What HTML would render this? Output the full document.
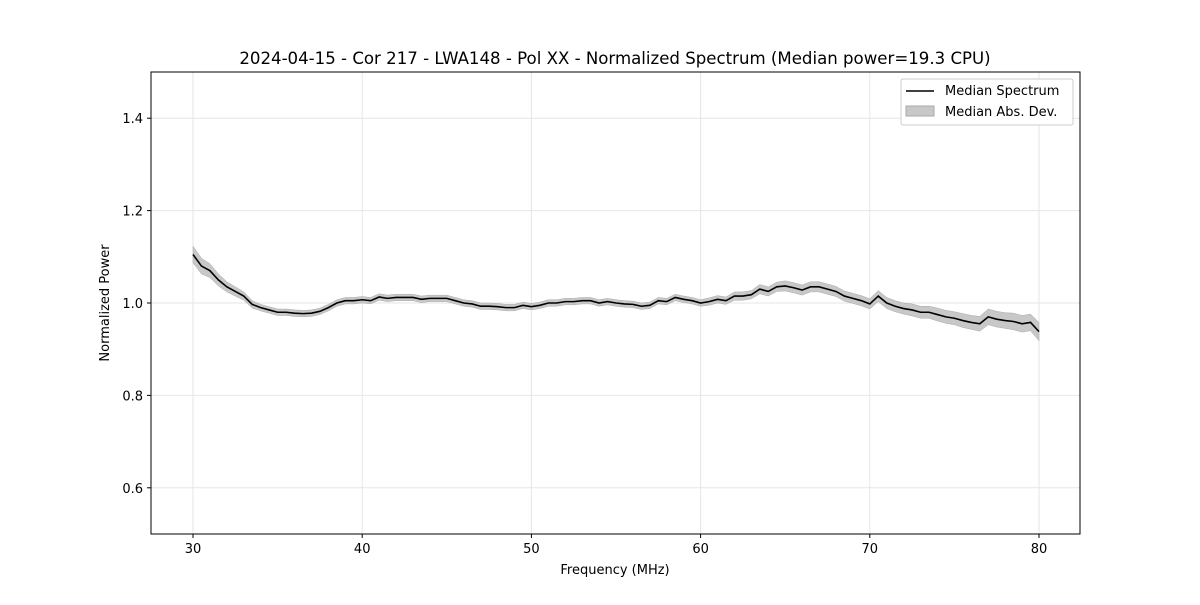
<!DOCTYPE html>
<html><head><meta charset="utf-8"><style>
body{margin:0;background:#fff;font-family:"Liberation Sans",sans-serif}
svg text{font-family:"DejaVu Sans","Liberation Sans",sans-serif;font-size:13px;fill:#000}
</style></head><body>
<svg id="chart" width="1200" height="600" xmlns="http://www.w3.org/2000/svg">
<rect width="1200" height="600" fill="#fff"/>
<text x="615" y="64" text-anchor="middle" style="font-size:16.6px">2024-04-15 - Cor 217 - LWA148 - Pol XX - Normalized Spectrum (Median power=19.3 CPU)</text>
<g id="grid"></g>
<g id="marks"></g>
<rect x="151" y="72" width="929" height="462" fill="none" stroke="#000" stroke-width="1"/>
<g id="ticks"></g>
<text x="615" y="574" text-anchor="middle">Frequency (MHz)</text>
<text transform="translate(109,303) rotate(-90)" text-anchor="middle">Normalized Power</text>
<g>
<rect x="901" y="79" width="172" height="46" fill="#fff" stroke="#ccc" rx="2"/>
<line x1="906" y1="91" x2="934" y2="91" stroke="#000" stroke-width="1.6"/>
<text x="945" y="95">Median Spectrum</text>
<rect x="906" y="106" width="28" height="10" fill="#c8c8c8" stroke="#aaa"/>
<text x="945" y="116">Median Abs. Dev.</text>
</g>
</svg>
<script>
const freqStart = 30, freqStep = 0.5;
const medianValues = [1.105,1.08,1.07,1.05,1.035,1.025,1.015,0.997,0.99,0.985,0.98,0.98,0.978,0.977,0.978,0.982,0.99,1.0,1.005,1.005,1.007,1.005,1.013,1.01,1.012,1.012,1.012,1.008,1.01,1.01,1.01,1.005,1.0,0.998,0.993,0.993,0.992,0.99,0.99,0.995,0.992,0.995,1.0,1.0,1.003,1.003,1.005,1.005,1.0,1.003,1.0,0.998,0.997,0.993,0.995,1.005,1.003,1.012,1.008,1.005,1.0,1.003,1.008,1.005,1.015,1.015,1.018,1.03,1.025,1.035,1.037,1.033,1.028,1.035,1.035,1.03,1.025,1.015,1.01,1.005,0.998,1.015,1.0,0.993,0.988,0.985,0.98,0.98,0.975,0.97,0.967,0.962,0.958,0.955,0.97,0.965,0.962,0.96,0.955,0.958,0.938];
const madValues = [0.018,0.017,0.015,0.013,0.011,0.01,0.009,0.008,0.007,0.007,0.007,0.007,0.007,0.007,0.007,0.007,0.007,0.007,0.007,0.007,0.007,0.007,0.007,0.007,0.007,0.007,0.007,0.007,0.007,0.007,0.007,0.007,0.007,0.007,0.007,0.007,0.007,0.007,0.007,0.007,0.007,0.007,0.007,0.007,0.007,0.007,0.007,0.007,0.007,0.007,0.007,0.007,0.007,0.007,0.007,0.007,0.007,0.007,0.007,0.007,0.007,0.008,0.008,0.008,0.009,0.009,0.009,0.01,0.01,0.01,0.011,0.011,0.011,0.011,0.011,0.011,0.011,0.011,0.011,0.011,0.011,0.012,0.012,0.012,0.012,0.013,0.013,0.013,0.014,0.014,0.014,0.015,0.015,0.016,0.017,0.017,0.017,0.018,0.018,0.018,0.02];
const xTicks = [30,40,50,60,70,80];
const yTicks = [0.6,0.8,1.0,1.2,1.4];
const X = f => 193 + (f-30)*16.92;
const Y = v => 534 - (v-0.5)*462;
const NS='http://www.w3.org/2000/svg';
function mk(tag, attrs, parent){const e=document.createElementNS(NS,tag);for(const k in attrs)e.setAttribute(k,attrs[k]);parent.appendChild(e);return e;}
const grid=document.getElementById('grid'), ticks=document.getElementById('ticks'), marks=document.getElementById('marks');
xTicks.forEach(t=>{
  const g=mk('line',{x1:X(t),x2:X(t),y1:72,y2:534,stroke:'#e6e6e6'},grid);
  
  
  const tk=mk('line',{x1:X(t),x2:X(t),y1:534,y2:538,stroke:'#000'},ticks);
  
  
  const tx=mk('text',{x:X(t),y:553,'text-anchor':'middle'},ticks);tx.textContent=t;
  
  
});
yTicks.forEach(t=>{
  const g=mk('line',{x1:151,x2:1080,y1:Y(t),y2:Y(t),stroke:'#e6e6e6'},grid);
  
  
  const tk=mk('line',{x1:147,x2:151,y1:Y(t),y2:Y(t),stroke:'#000'},ticks);
  
  
  const tx=mk('text',{x:143,y:Y(t)+5,'text-anchor':'end'},ticks);tx.textContent=t.toFixed(1);
  
  
});
let up=[],dn=[],ln=[];
medianValues.forEach((v,i)=>{const f=freqStart+i*freqStep;up.push(X(f)+','+Y(v+madValues[i]));dn.unshift(X(f)+','+Y(v-madValues[i]));ln.push(X(f)+','+Y(v));});
const band=mk('polygon',{points:up.concat(dn).join(' '),fill:'#c8c8c8',stroke:'#aaa','stroke-width':0.5},marks);


const line=mk('polyline',{points:ln.join(' '),fill:'none',stroke:'#000','stroke-width':1.6},marks);


</script>
</body></html>
